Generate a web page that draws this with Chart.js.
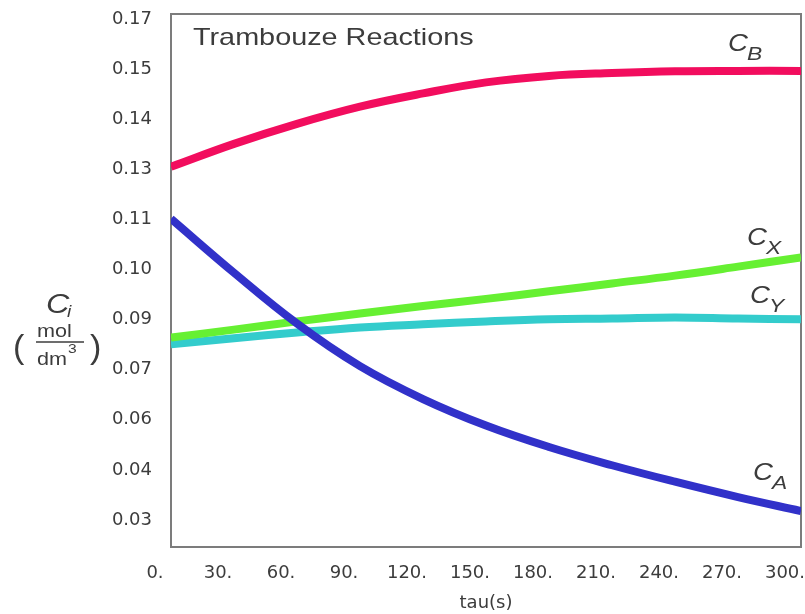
<!DOCTYPE html>
<html>
<head>
<meta charset="utf-8">
<script src="https://cdn.jsdelivr.net/npm/chart.js@4.4.1/dist/chart.umd.min.js"></script>
<style>
	html, body { margin: 0; padding: 0; background: #ffffff; }
	#wrap { width: 805px; height: 614px; }
</style>
</head>
<body>
<div id="wrap"><canvas id="myChart" width="805" height="614"></canvas></div>
<script>
// tau (s)
const tau = [0, 30, 60, 90, 120, 150, 180, 210, 240, 270, 300];

// concentrations (mol/dm3)
const cA = [0.1142, 0.0991, 0.0849, 0.0730, 0.0638, 0.0564, 0.0504, 0.0453, 0.0407, 0.0364, 0.0325];
const cB = [0.1287, 0.1351, 0.1407, 0.1455, 0.1492, 0.1523, 0.1541, 0.1549, 0.1554, 0.1555, 0.1555];
const cX = [0.0810, 0.0832, 0.0855, 0.0877, 0.0898, 0.0918, 0.0939, 0.0961, 0.0983, 0.1008, 0.1034];
const cY = [0.0791, 0.0808, 0.0824, 0.0838, 0.0847, 0.0855, 0.0861, 0.0863, 0.0866, 0.0863, 0.0861];

// axis ticks (the printed labels are rounded, not evenly)
const yTickValues = [0.03, 0.044, 0.058, 0.072, 0.086, 0.1, 0.114, 0.128, 0.142, 0.156, 0.17];
const yTickLabels = ['0.03', '0.04', '0.06', '0.07', '0.09', '0.10', '0.11', '0.13', '0.14', '0.15', '0.17'];
const xTickLabels = ['0.', '30.', '60.', '90.', '120.', '150.', '180.', '210.', '240.', '270.', '300.'];

const TEXT = '#3c3c3c';
const STRETCH = 1.2; // the scanned figure is wider than it is tall

function stretchText(ctx, str, x, y, sx) {
	ctx.save();
	ctx.translate(x, y);
	ctx.scale(sx, 1);
	ctx.fillText(str, 0, 0);
	ctx.restore();
}

const pts = arr => tau.map((t, i) => ({ x: t, y: arr[i] }));

// 곡선 이름표: 마지막 점 기준 위치
const labelPlugin = {
	id: 'labelPlugin',
	beforeDatasetsDraw(chart) {
		const { ctx, chartArea: a } = chart;
		ctx.save();
		ctx.strokeStyle = '#7c7c7c';
		ctx.lineWidth = 2;
		ctx.strokeRect(a.left, a.top, a.right - a.left, a.bottom - a.top);
		ctx.restore();
	},
	afterDraw(chart) {
		const { ctx, chartArea: a } = chart;
		ctx.save();
		ctx.fillStyle = TEXT;
		ctx.textBaseline = 'alphabetic';
		ctx.textAlign = 'left';

		// title
		ctx.font = '24px "Liberation Sans", Arial, sans-serif';
		stretchText(ctx, 'Trambouze Reactions', a.left + 22, a.top + 31, STRETCH);

		// curve labels
		chart.data.datasets.forEach((ds, i) => {
			const meta = chart.getDatasetMeta(i);
			const last = meta.data[meta.data.length - 1];
			const off = ds.labelOffset;
			const x = last.x + off[0];
			const y = last.y + off[1];
			ctx.font = 'italic 23px "Liberation Sans", Arial, sans-serif';
			stretchText(ctx, 'C', x, y, STRETCH);
			ctx.font = 'italic 19px "Liberation Sans", Arial, sans-serif';
			stretchText(ctx, ds.sub, x + 19, y + 9, STRETCH);
		});

		// y title: C_i (mol / dm3)
		ctx.font = 'italic 27px "Liberation Sans", Arial, sans-serif';
		stretchText(ctx, 'C', 46, 313, STRETCH);
		ctx.font = 'italic 16px "Liberation Sans", Arial, sans-serif';
		stretchText(ctx, 'i', 67, 317, STRETCH);

		ctx.font = '34px "Liberation Sans", Arial, sans-serif';
		stretchText(ctx, '(', 13, 358, 1.0);
		stretchText(ctx, ')', 90, 358, 1.0);

		ctx.font = '18px "Liberation Sans", Arial, sans-serif';
		stretchText(ctx, 'mol', 37, 337, STRETCH);
		stretchText(ctx, 'dm', 37, 365, STRETCH);
		const dmW = ctx.measureText('dm').width * STRETCH;
		ctx.font = '13px "Liberation Sans", Arial, sans-serif';
		stretchText(ctx, '3', 37 + dmW + 1, 353, STRETCH);

		ctx.strokeStyle = TEXT;
		ctx.lineWidth = 1.5;
		ctx.beginPath();
		ctx.moveTo(36, 342);
		ctx.lineTo(84, 342);
		ctx.stroke();
		ctx.restore();
	}
};

const tickFont = { family: '"DejaVu Sans", sans-serif', size: 18 };

new Chart(document.getElementById('myChart'), {
	type: 'line',
	data: {
		datasets: [
			{ label: 'C_B', sub: 'B', data: pts(cB), borderColor: '#f20d5e', labelOffset: [-73, -20] },
			{ label: 'C_A', sub: 'A', data: pts(cA), borderColor: '#3131c9', labelOffset: [-48, -31] },
			{ label: 'C_X', sub: 'X', data: pts(cX), borderColor: '#66f032', labelOffset: [-54, -12] },
			{ label: 'C_Y', sub: 'Y', data: pts(cY), borderColor: '#33cccc', labelOffset: [-51, -16] }
		].map(ds => Object.assign(ds, {
			borderWidth: 8,
			pointRadius: 0,
			fill: false,
			tension: 0.4
		}))
	},
	options: {
		responsive: false,
		animation: false,
		devicePixelRatio: 1,
		layout: { padding: { top: 14, right: 4, left: 0, bottom: 0 } },
		plugins: {
			legend: { display: false },
			tooltip: { enabled: false }
		},
		scales: {
			x: {
				type: 'linear',
				min: 0,
				max: 300,
				grid: { display: false, drawTicks: false },
				border: { display: false },
				afterBuildTicks: s => { s.ticks = tau.map(v => ({ value: v })); },
				afterFit: s => { s.height = 67; s.paddingLeft = 0; s.paddingRight = 0; },
				ticks: {
					color: TEXT,
					font: tickFont,
					padding: 16,
					maxRotation: 0,
					autoSkip: false,
					labelOffset: -16,
					callback: (v, i) => xTickLabels[i]
				},
				title: {
					display: true,
					text: 'tau(s)',
					color: TEXT,
					font: { family: '"DejaVu Sans", sans-serif', size: 18 },
					padding: { top: 0, bottom: 0 }
				}
			},
			y: {
				type: 'linear',
				min: 0.02246,
				max: 0.1714,
				grid: { display: false, drawTicks: false },
				border: { display: false },
				afterBuildTicks: s => { s.ticks = yTickValues.map(v => ({ value: v })); },
				afterFit: s => { s.width = 171; s.paddingTop = 0; s.paddingBottom = 0; },
				ticks: {
					color: TEXT,
					font: tickFont,
					padding: 19,
					autoSkip: false,
					callback: (v, i) => yTickLabels[i]
				}
			}
		}
	},
	plugins: [labelPlugin]
});
</script>
</body>
</html>
